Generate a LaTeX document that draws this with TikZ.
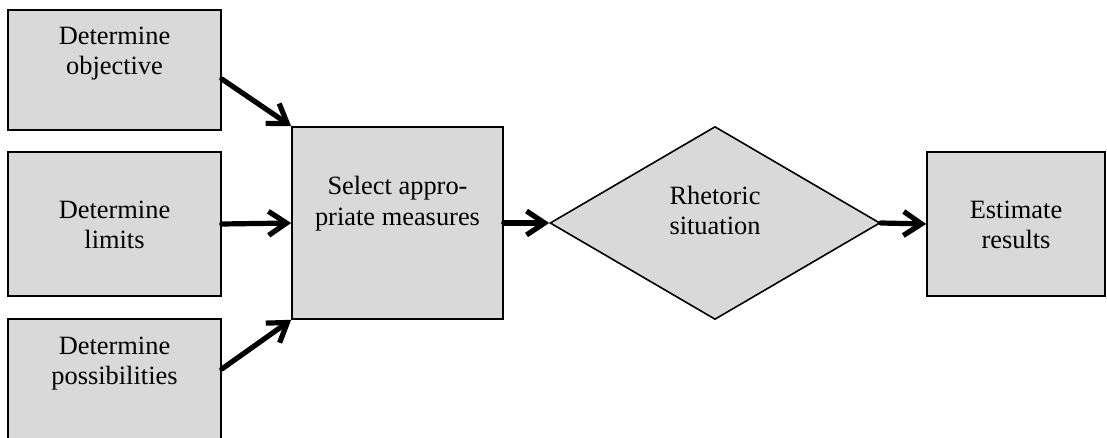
\documentclass[tikz,border=0pt]{standalone}
\usepackage{fontspec}
\setmainfont{Liberation Serif}
\usepackage{tikz}
\usetikzlibrary{shapes.geometric, arrows.meta, positioning}
\definecolor{boxgray}{HTML}{D9D9D9}
\tikzstyle{stepbox} = [rectangle, draw=black, line width=0.8pt, fill=boxgray, inner sep=0pt]
\tikzstyle{decision} = [diamond, draw=black, line width=0.8pt, fill=boxgray, inner sep=0pt, minimum width=165pt, minimum height=96.5pt]
\tikzstyle{txt} = [align=center, inner sep=0pt, font=\fontsize{13.2pt}{15.25pt}\selectfont]
\tikzstyle{arrow} = [line width=2.6pt, line cap=round, -{Straight Barb[length=9pt,width=12pt]}]

\begin{document}
\begin{tikzpicture}[x=0.5pt, y=-0.5pt]
        \useasboundingbox (0,0) rectangle (1107,438);
        % left column
        \node[stepbox, minimum width=106.5pt, minimum height=60pt] (objective) at (114.5,70) {};
        \node[stepbox, minimum width=106.5pt, minimum height=72pt] (limits) at (114.5,224) {};
        \node[stepbox, minimum width=106.5pt, minimum height=60pt] (possibilities) at (114.5,379) {};
        % main line
        \node[stepbox, minimum width=105.5pt, minimum height=96pt] (measures) at (397.5,223) {};
        \node[decision] (rhetoric) at (715,223) {};
        \node[stepbox, minimum width=89pt, minimum height=72pt] (results) at (1016,224) {};
        % texts
        \node[txt, below=8.7pt of objective.north] (objective-txt) {Determine\\objective};
        \node[txt, below=24.6pt of limits.north] (limits-txt) {Determine\\limits};
        \node[txt, below=9.2pt of possibilities.north] (possibilities-txt) {Determine\\possibilities};
        \node[txt, below=25pt of measures.north] (measures-txt) {Select appro-\\priate measures};
        \node[txt, below=30pt of rhetoric.north] (rhetoric-txt) {Rhetoric\\situation};
        \node[txt, below=24.6pt of results.north] (results-txt) {Estimate\\results};
        % arrows
        \draw[arrow] ([yshift=-4.5pt]objective.east) -- (measures.north west);
        \draw[arrow] (limits.east) -- (measures.west);
        \draw[arrow] ([yshift=5pt]possibilities.east) -- (measures.south west);
        \draw[arrow] (measures.east) -- (rhetoric.west);
        \draw[arrow] (rhetoric.east) -- (results.west);
\end{tikzpicture}
\end{document}
